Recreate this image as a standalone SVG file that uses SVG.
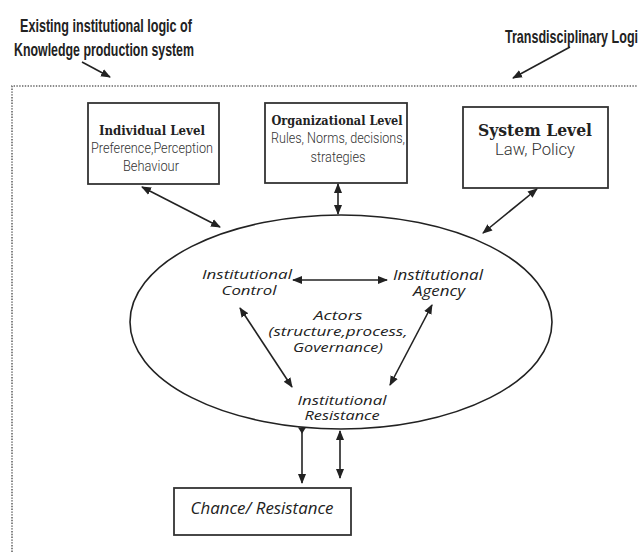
<svg xmlns="http://www.w3.org/2000/svg" width="638" height="552" viewBox="0 0 638 552">
<defs>
<marker id="ah" viewBox="0 0 10 10" refX="9" refY="5" markerWidth="10" markerHeight="10" markerUnits="userSpaceOnUse" orient="auto-start-reverse">
<path d="M0,1 L10,5 L0,9 Z" fill="#222"/>
</marker>
<marker id="tick" viewBox="0 0 10 10" refX="5" refY="2" markerWidth="8" markerHeight="8" markerUnits="userSpaceOnUse" orient="0">
<path d="M0,0 L10,0 L5,8 Z" fill="#222"/>
</marker>
<style>
.box{fill:#fff;stroke:#333;stroke-width:1.8}
.ln{fill:none;stroke:#222;stroke-width:1.6}
.dot{fill:none;stroke:#666;stroke-width:1.6;stroke-dasharray:1.4 1.4}
.hd{font-family:"Liberation Sans",Arial,sans-serif;font-weight:bold;font-size:19px;fill:#222}
.bt{font-family:"DejaVu Serif","Liberation Serif",serif;font-weight:bold;fill:#222;text-anchor:middle}
.bs{font-family:"Roboto","Liberation Sans",sans-serif;font-weight:300;fill:#333;text-anchor:middle}
.hw{font-family:"Open Sans","DejaVu Sans",sans-serif;font-style:italic;fill:#222;text-anchor:middle}
</style>
</defs>
<rect width="638" height="552" fill="#fff"/>

<g id="frame">
<path class="dot" d="M12,552 L12,86 L638,86"/>
</g>

<g id="label-existing">
<text class="hd" x="20" y="32" textLength="172" lengthAdjust="spacingAndGlyphs">Existing institutional logic of</text>
<text class="hd" x="14" y="56" textLength="180" lengthAdjust="spacingAndGlyphs">Knowledge production system</text>
</g>
<g id="label-trans">
<text class="hd" x="505" y="43" textLength="140" lengthAdjust="spacingAndGlyphs">Transdisciplinary Logic</text>
</g>

<g id="individual">
<rect class="box" x="88" y="103" width="131" height="81"/>
<text class="bt" x="152" y="135" font-size="13" textLength="106" lengthAdjust="spacingAndGlyphs">Individual Level</text>
<text class="bs" x="152" y="153" font-size="14" textLength="122" lengthAdjust="spacingAndGlyphs">Preference,Perception</text>
<text class="bs" x="151" y="171" font-size="14" textLength="56" lengthAdjust="spacingAndGlyphs">Behaviour</text>
</g>

<g id="organizational">
<rect class="box" x="265" y="103" width="142" height="80"/>
<text class="bt" x="337" y="125" font-size="12.5" textLength="131" lengthAdjust="spacingAndGlyphs">Organizational Level</text>
<text class="bs" x="338" y="143" font-size="14" textLength="134" lengthAdjust="spacingAndGlyphs">Rules, Norms, decisions,</text>
<text class="bs" x="338" y="162" font-size="14" textLength="55" lengthAdjust="spacingAndGlyphs">strategies</text>
</g>

<g id="system">
<rect class="box" x="463" y="107" width="145" height="81"/>
<text class="bt" x="535" y="136" font-size="16" textLength="114" lengthAdjust="spacingAndGlyphs">System Level</text>
<text class="bs" x="535" y="155" font-size="16" textLength="80" lengthAdjust="spacingAndGlyphs">Law, Policy</text>
</g>

<g id="actors">
<ellipse cx="341" cy="322" rx="211" ry="107" fill="none" stroke="#222" stroke-width="1.6"/>
<text class="hw" x="247" y="279" font-size="13.5" textLength="90" lengthAdjust="spacingAndGlyphs">Institutional</text>
<text class="hw" x="249" y="295" font-size="13.5" textLength="55" lengthAdjust="spacingAndGlyphs">Control</text>
<text class="hw" x="438" y="280" font-size="14.5" textLength="90" lengthAdjust="spacingAndGlyphs">Institutional</text>
<text class="hw" x="439" y="296" font-size="14.5" textLength="52" lengthAdjust="spacingAndGlyphs">Agency</text>
<text class="hw" x="338" y="320" font-size="13.5" textLength="49" lengthAdjust="spacingAndGlyphs">Actors</text>
<text class="hw" x="338" y="336" font-size="13.5" textLength="139" lengthAdjust="spacingAndGlyphs">(structure,process,</text>
<text class="hw" x="338" y="352" font-size="13.5" textLength="90" lengthAdjust="spacingAndGlyphs">Governance)</text>
<text class="hw" x="342" y="405" font-size="13.5" textLength="89" lengthAdjust="spacingAndGlyphs">Institutional</text>
<text class="hw" x="342" y="420" font-size="13.5" textLength="75" lengthAdjust="spacingAndGlyphs">Resistance</text>
</g>

<g id="outcome">
<rect class="box" x="174" y="488" width="177" height="47"/>
<text class="hw" x="262" y="514" font-size="17" textLength="143" lengthAdjust="spacingAndGlyphs">Chance/ Resistance</text>
</g>

<g id="connectors">
<line class="ln" x1="82" y1="62" x2="110" y2="77" marker-end="url(#ah)"/>
<line class="ln" x1="570" y1="47" x2="513" y2="78" marker-end="url(#ah)"/>
<line class="ln" x1="142" y1="187" x2="220" y2="227" marker-start="url(#ah)" marker-end="url(#ah)"/>
<line class="ln" x1="338" y1="184" x2="338" y2="214" marker-start="url(#ah)" marker-end="url(#ah)"/>
<line class="ln" x1="537" y1="189" x2="483" y2="233" marker-start="url(#ah)" marker-end="url(#ah)"/>
<line class="ln" x1="293" y1="280" x2="387" y2="280" marker-start="url(#ah)" marker-end="url(#ah)"/>
<line class="ln" x1="240" y1="308" x2="292" y2="387" marker-start="url(#ah)" marker-end="url(#ah)"/>
<line class="ln" x1="432" y1="305" x2="390" y2="385" marker-start="url(#ah)" marker-end="url(#ah)"/>
<line class="ln" x1="302" y1="429" x2="302" y2="483" marker-start="url(#tick)" marker-end="url(#ah)"/>
<line class="ln" x1="340" y1="431" x2="340" y2="478" marker-start="url(#ah)" marker-end="url(#ah)"/>
</g>
</svg>
